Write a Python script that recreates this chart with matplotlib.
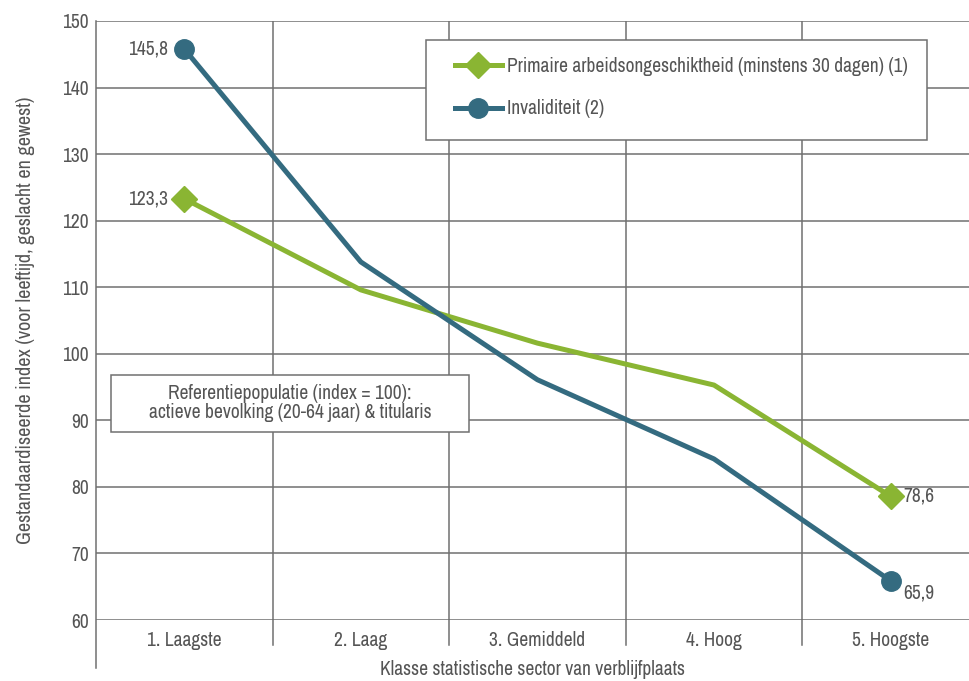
import matplotlib
matplotlib.use("Agg")
import matplotlib.pyplot as plt
from matplotlib import font_manager
from matplotlib.patches import Rectangle

# prefer a condensed sans if one is installed
narrow = [f.name for f in font_manager.fontManager.ttflist
          if f.stretch in ('condensed', 'semi-condensed', 'extra-condensed')
          or 'Condensed' in f.name or 'Narrow' in f.name]
base_font = sorted(set(narrow))[0] if narrow else 'Roboto'
plt.rcParams['font.family'] = [base_font, 'DejaVu Sans']
plt.rcParams['font.stretch'] = 'condensed'

categories = ['1. Laagste', '2. Laag', '3. Gemiddeld', '4. Hoog', '5. Hoogste']
arbeidsongeschikt = [123.3, 109.6, 101.6, 95.3, 78.6]
invaliditeit = [145.8, 113.8, 96.1, 84.2, 65.9]
y_ticks = [60, 70, 80, 90, 100, 110, 120, 130, 140, 150]

green = '#8ab533'
blue = '#346b80'
grid_col = '#707070'
text_col = '#555555'
fs = 14

fig = plt.figure(figsize=(9.70, 6.81), dpi=100)
ax = fig.add_axes([96 / 970, 1 - 620 / 681, 874 / 970, 599 / 681])
x = list(range(len(categories)))

# grid: horizontal at every tick, vertical between the classes
for y in y_ticks:
    ax.axhline(y, color=grid_col, lw=1.1, zorder=1)
for b in [0.5, 1.5, 2.5, 3.5]:
    ax.axvline(b, color=grid_col, lw=1.1, zorder=1)
    ax.plot([b, b], [0, -25 / 599], transform=ax.get_xaxis_transform(),
            color=grid_col, lw=1.1, clip_on=False)
ax.plot([-0.5, -0.5], [1, -48 / 599], transform=ax.get_xaxis_transform(),
        color=grid_col, lw=1.1, clip_on=False)

# markers only on the first and last class
l1, = ax.plot(x, arbeidsongeschikt, color=green, lw=3.6, marker='D', ms=13,
              markevery=[0, 4], zorder=3)
l2, = ax.plot(x, invaliditeit, color=blue, lw=3.6, marker='o', ms=14,
              markevery=[0, 4], zorder=4)

for s in ax.spines.values():
    s.set_visible(False)

ax.set_xlim(-0.5, 4.45)
ax.set_ylim(60, 150)
ax.set_yticks(y_ticks)
ax.set_xticks(x)
ax.set_xticklabels(categories)
ax.tick_params(axis='both', length=0, colors=text_col, labelsize=fs)
ax.tick_params(axis='x', pad=8)
ax.tick_params(axis='y', pad=5)
ax.set_xlabel('Klasse statistische sector van verblijfplaats', color=text_col,
              fontsize=fs, labelpad=7)
ax.set_ylabel('Gestandaardiseerde index (voor leeftijd, geslacht en gewest)',
              color=text_col, fontsize=14.5, labelpad=20)

# value labels at the first and last class
lab = dict(color=text_col, fontsize=fs, textcoords='offset points', va='center')
ax.annotate('145,8', (0, invaliditeit[0]), xytext=(-12, 0), ha='right', **lab)
ax.annotate('123,3', (0, arbeidsongeschikt[0]), xytext=(-12, 0), ha='right', **lab)
ax.annotate('78,6', (4, arbeidsongeschikt[4]), xytext=(9, 0), ha='left', **lab)
ax.annotate('65,9', (4, invaliditeit[4]), xytext=(9, -9), ha='left', **lab)

# legend inside a fixed frame
fig.patches.append(Rectangle((426 / 970, 1 - 140 / 681), 501 / 970, 100 / 681,
                             transform=fig.transFigure, facecolor='white',
                             edgecolor=grid_col, lw=1.1, zorder=5))
leg = fig.legend([l1, l2],
                 ['Primaire arbeidsongeschiktheid (minstens 30 dagen) (1)',
                  'Invaliditeit (2)'],
                 loc='upper left', bbox_to_anchor=(455 / 970, 1 - 57 / 681),
                 frameon=False, fontsize=fs, handlelength=2.4,
                 handletextpad=0.3, labelspacing=1.2,
                 labelcolor=text_col, borderaxespad=0, borderpad=0)
leg.set_zorder(10)

# reference population note
fig.patches.append(Rectangle((111 / 970, 1 - 432 / 681), 358 / 970, 57 / 681,
                             transform=fig.transFigure, facecolor='white',
                             edgecolor=grid_col, lw=1.1, zorder=5))
fig.text(290 / 970, 1 - 403 / 681,
         'Referentiepopulatie (index = 100):\nactieve bevolking (20-64 jaar) & titularis',
         ha='center', va='center', color=text_col, fontsize=fs,
         linespacing=1.05, zorder=10)

fig.savefig('out.png', dpi=100)
